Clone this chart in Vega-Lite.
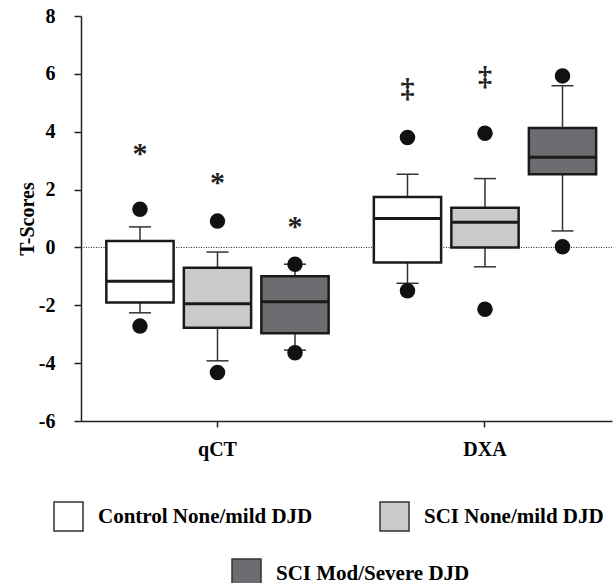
{
  "$schema": "https://vega.github.io/schema/vega-lite/v6.json",
  "autosize": "none",
  "width": 531,
  "height": 405,
  "padding": {"left": 81, "top": 16, "right": 2, "bottom": 162},
  "background": "white",
  "config": {
    "view": {"stroke": null},
    "font": "Liberation Serif",
    "axis": {"labelFont": "Liberation Serif", "titleFont": "Liberation Serif", "labelFontWeight": "bold", "titleFontWeight": "bold", "labelColor": "black", "titleColor": "black", "domainColor": "#222", "tickColor": "#222", "domainWidth": 1.5, "tickWidth": 1.5, "grid": false},
    "legend": {"labelFont": "Liberation Serif", "labelFontWeight": "bold", "labelFontSize": 21, "labelColor": "black", "symbolType": "square", "symbolSize": 841, "symbolStrokeColor": "#333", "symbolStrokeWidth": 1.5, "labelOffset": 14, "labelLimit": 400, "direction": "horizontal", "orient": "none"}
  },
  "datasets": {
    "boxes": [
      {"method": "qCT", "group": "Control None/mild DJD", "lo": -2.26, "q1": -1.90, "med": -1.17, "q3": 0.22, "hi": 0.71},
      {"method": "qCT", "group": "SCI None/mild DJD", "lo": -3.92, "q1": -2.78, "med": -1.95, "q3": -0.70, "hi": -0.16},
      {"method": "qCT", "group": "SCI Mod/Severe DJD", "lo": -3.55, "q1": -2.97, "med": -1.88, "q3": -1.00, "hi": -0.58},
      {"method": "DXA", "group": "Control None/mild DJD", "lo": -1.24, "q1": -0.52, "med": 1.00, "q3": 1.74, "hi": 2.53},
      {"method": "DXA", "group": "SCI None/mild DJD", "lo": -0.67, "q1": 0.0, "med": 0.87, "q3": 1.37, "hi": 2.38},
      {"method": "DXA", "group": "SCI Mod/Severe DJD", "lo": 0.57, "q1": 2.53, "med": 3.12, "q3": 4.13, "hi": 5.59}
    ],
    "outliers": [
      {"method": "qCT", "group": "Control None/mild DJD", "value": 1.32},
      {"method": "qCT", "group": "Control None/mild DJD", "value": -2.72},
      {"method": "qCT", "group": "SCI None/mild DJD", "value": 0.91},
      {"method": "qCT", "group": "SCI None/mild DJD", "value": -4.32},
      {"method": "qCT", "group": "SCI Mod/Severe DJD", "value": -0.58},
      {"method": "qCT", "group": "SCI Mod/Severe DJD", "value": -3.64},
      {"method": "DXA", "group": "Control None/mild DJD", "value": 3.80},
      {"method": "DXA", "group": "Control None/mild DJD", "value": -1.50},
      {"method": "DXA", "group": "SCI None/mild DJD", "value": 3.95},
      {"method": "DXA", "group": "SCI None/mild DJD", "value": -2.14},
      {"method": "DXA", "group": "SCI Mod/Severe DJD", "value": 5.93},
      {"method": "DXA", "group": "SCI Mod/Severe DJD", "value": 0.02}
    ],
    "signif": [
      {"method": "qCT", "group": "Control None/mild DJD", "value": 3.5, "sym": "*"},
      {"method": "qCT", "group": "SCI None/mild DJD", "value": 2.52, "sym": "*"},
      {"method": "qCT", "group": "SCI Mod/Severe DJD", "value": 0.97, "sym": "*"},
      {"method": "DXA", "group": "Control None/mild DJD", "value": 5.52, "sym": "‡"},
      {"method": "DXA", "group": "SCI None/mild DJD", "value": 5.92, "sym": "‡"}
    ]
  },
  "encoding": {
    "x": {"field": "method", "type": "nominal", "title": null,
      "scale": {"domain": ["qCT", "DXA"], "paddingInner": 0.169, "paddingOuter": 0.077, "align": 0.615},
      "axis": {"labelAngle": 0, "labelFontSize": 20, "tickSize": 6, "labelPadding": 12}},
    "xOffset": {"field": "group", "type": "nominal",
      "scale": {"domain": ["Control None/mild DJD", "SCI None/mild DJD", "SCI Mod/Severe DJD"], "paddingInner": 0.132, "paddingOuter": 0}}
  },
  "layer": [
    {
      "data": {"values": [{"ref": 0}]},
      "mark": {"type": "rule", "color": "#222", "strokeWidth": 1, "strokeDash": [1, 1.5]},
      "encoding": {"x": null, "xOffset": null, "y": {"field": "ref", "type": "quantitative"}}
    },
    {
      "data": {"name": "boxes"},
      "mark": {"type": "rule", "color": "#333", "strokeWidth": 1.5, "opacity": 1},
      "encoding": {
        "y": {"field": "lo", "type": "quantitative", "title": "T-Scores",
          "scale": {"domain": [-6, 8], "nice": false, "zero": false},
          "axis": {"values": [-6, -5, -4, -3, -2, -1, 0, 1, 2, 3, 4, 5, 6, 7, 8],
            "labelExpr": "datum.value % 2 === 0 ? toString(datum.value) : ''",
            "tickSize": {"condition": {"test": "datum.value % 2 !== 0", "value": 4}, "value": 7},
            "labelFontSize": 20, "titleFontSize": 20, "labelPadding": 19, "titlePadding": 1}},
        "y2": {"field": "hi"}
      }
    },
    {
      "data": {"name": "boxes"},
      "mark": {"type": "tick", "color": "#333", "thickness": 1.5, "size": 22, "opacity": 1},
      "encoding": {"y": {"field": "lo", "type": "quantitative"}}
    },
    {
      "data": {"name": "boxes"},
      "mark": {"type": "tick", "color": "#333", "thickness": 1.5, "size": 22, "opacity": 1},
      "encoding": {"y": {"field": "hi", "type": "quantitative"}}
    },
    {
      "data": {"name": "boxes"},
      "transform": [{"filter": "datum.group !== 'SCI Mod/Severe DJD'"}],
      "mark": {"type": "bar", "stroke": "#1a1a1a", "strokeWidth": 2.5, "opacity": 1},
      "encoding": {
        "y": {"field": "q1", "type": "quantitative"},
        "y2": {"field": "q3"},
        "fill": {"field": "group", "type": "nominal",
          "scale": {"domain": ["Control None/mild DJD", "SCI None/mild DJD"], "range": ["#ffffff", "#c9cacc"]},
          "legend": {"title": null, "legendX": -28, "legendY": 485, "columnPadding": 64}}
      }
    },
    {
      "data": {"name": "boxes"},
      "transform": [{"filter": "datum.group === 'SCI Mod/Severe DJD'"}],
      "mark": {"type": "bar", "stroke": "#1a1a1a", "strokeWidth": 2.5, "opacity": 1},
      "encoding": {
        "y": {"field": "q1", "type": "quantitative"},
        "y2": {"field": "q3"},
        "fill": {"field": "group", "type": "nominal",
          "scale": {"domain": ["SCI Mod/Severe DJD"], "range": ["#6c6d70"]},
          "legend": {"title": null, "legendX": 150, "legendY": 542}}
      }
    },
    {
      "data": {"name": "boxes"},
      "mark": {"type": "tick", "color": "#1a1a1a", "thickness": 3, "size": 67, "opacity": 1},
      "encoding": {"y": {"field": "med", "type": "quantitative"}}
    },
    {
      "data": {"name": "outliers"},
      "mark": {"type": "circle", "color": "#111", "opacity": 1, "size": 240},
      "encoding": {"y": {"field": "value", "type": "quantitative"}}
    },
    {
      "data": {"name": "signif"},
      "transform": [{"filter": "datum.sym === '*'"}],
      "mark": {"type": "text", "font": "Liberation Serif", "fontSize": 30, "fontWeight": "bold", "color": "#222", "baseline": "middle", "dy": 8},
      "encoding": {"y": {"field": "value", "type": "quantitative"}, "text": {"field": "sym"}}
    },
    {
      "data": {"name": "signif"},
      "transform": [{"filter": "datum.sym !== '*'"}],
      "mark": {"type": "text", "font": "Liberation Serif", "fontSize": 28, "fontWeight": "bold", "color": "#222", "baseline": "middle", "dy": 1},
      "encoding": {"y": {"field": "value", "type": "quantitative"}, "text": {"field": "sym"}}
    }
  ],
  "resolve": {"scale": {"fill": "independent"}, "legend": {"fill": "independent"}}
}
